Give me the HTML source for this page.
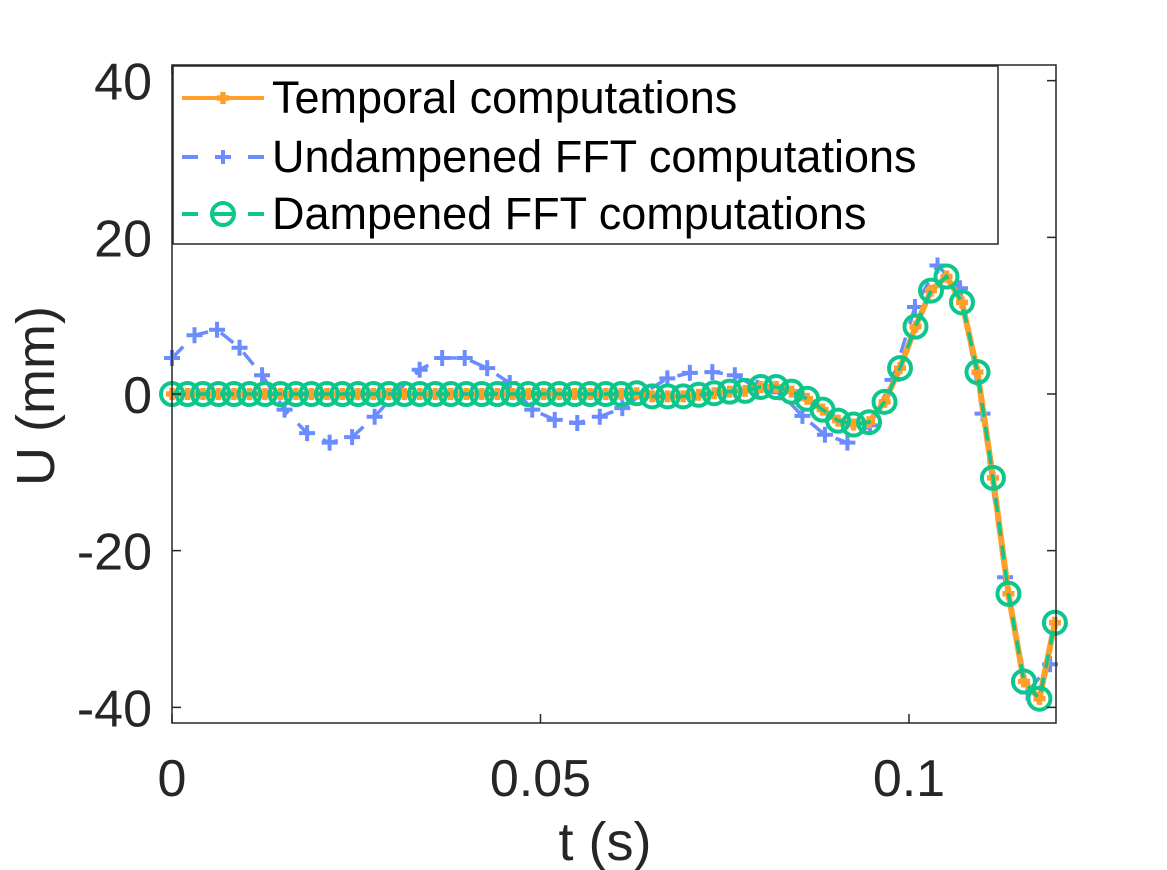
<!DOCTYPE html>
<html><head><meta charset="utf-8"><style>
html,body{margin:0;padding:0;background:#fff;}
svg{display:block;font-family:"Liberation Sans",sans-serif;}
</style></head><body>
<svg id="chart" width="1167" height="870" viewBox="0 0 1167 870" xmlns="http://www.w3.org/2000/svg">
<rect x="0" y="0" width="1167" height="870" fill="#fff"/>
<g id="plot"></g>
<g id="axes"></g>
<g id="legend"></g>
</svg>
<script>
const greenValues=[0,0,0,0,0,0,0,0,0,0,0,0,0,0,0,0,0,0,0,0,0,0,0,0,0,0,0,0,0,0,
0.1,-0.3,-0.3,-0.3,-0.1,0.1,0.3,0.4,0.9,0.9,0.3,-0.6,-2.0,-3.4,-3.9,-3.6,-1.0,3.3,8.6,13.2,15.0,11.7,2.8,-10.7,-25.5,-36.7,-38.9,-29.2];
const orangeValues=[0,0,0,0,0,0,0,0,0,0,0,0,0,0,0,0,0,0,0,0,0,0,0,0,0,0,0,0,0,0,
0.1,-0.3,-0.3,-0.3,-0.1,0.1,0.3,0.4,0.9,0.9,0.3,-0.6,-2.0,-3.4,-3.9,-3.6,-1.0,3.3,8.6,13.2,15.0,11.7,2.8,-10.7,-25.5,-36.7,-38.9,-29.2];
const blueValues=[4.6,7.5,8.2,5.9,2.4,-2.0,-5.0,-6.2,-5.5,-2.9,0.3,3.1,4.6,4.6,3.3,1.4,-2.0,-3.3,-3.7,-2.9,-1.8,0.2,2.0,2.7,2.8,2.4,0.8,0.2,-2.8,-5.2,-6.2,-4.0,1.8,11.1,16.4,13.5,-2.5,-23.4,-38.1,-34.5];
const greenDt=0.0021018;
const blueDt=0.003055;
const xTicks=[0,0.05,0.1];
const xTickLabels=["0","0.05","0.1"];
const yTicks=[-40,-20,0,20,40];
const yTickLabels=["-40","-20","0","20","40"];
const legendLabels=["Temporal computations","Undampened FFT computations","Dampened FFT computations"];

const NS="http://www.w3.org/2000/svg";
const L=172,R=1056,T=65,B=723,XMIN=0,XMAX=0.11995,YMIN=-42,YMAX=42;
const xs=t=>L+(t-XMIN)/(XMAX-XMIN)*(R-L);
const ys=u=>B-(u-YMIN)/(YMAX-YMIN)*(B-T);
const C_OR="#ff9f2a",C_BL="#6b8cff",C_GR="#0cc68c";
function mk(tag,attrs,parent){const e=document.createElementNS(NS,tag);for(const k in attrs)e.setAttribute(k,attrs[k]);parent.appendChild(e);return e;}
const plot=document.getElementById('plot'),axes=document.getElementById('axes'),legend=document.getElementById('legend');

function pts(vals,dt){return vals.map((v,i)=>[xs(i*dt),ys(v)]);}
function plus(g,x,y,s,c,w){mk('path',{d:`M${x-s},${y}H${x+s}M${x},${y-s}V${y+s}`,stroke:c,'stroke-width':w,fill:'none'},g);}

const bg=mk('g',{},plot);
const bp=pts(blueValues,blueDt);
const bline=mk('polyline',{points:bp.map(p=>p.join(',')).join(' '),fill:'none',stroke:C_BL,'stroke-width':3.5,'stroke-dasharray':'16 14'},bg);

bp.forEach(p=>plus(bg,p[0],p[1],8,C_BL,4));
const og=mk('g',{},plot);
const op=pts(orangeValues,greenDt);
const oline=mk('polyline',{points:op.map(p=>p.join(',')).join(' '),fill:'none',stroke:C_OR,'stroke-width':6},og);

op.forEach(p=>plus(og,p[0],p[1],6,C_OR,5.5));
const gg=mk('g',{},plot);
const gp=pts(greenValues,greenDt);
const gline=mk('polyline',{points:gp.map(p=>p.join(',')).join(' '),fill:'none',stroke:C_GR,'stroke-width':3.5,'stroke-dasharray':'14 10'},gg);

gp.forEach(p=>mk('circle',{cx:p[0],cy:p[1],r:11,fill:'none',stroke:C_GR,'stroke-width':4},gg));

const box=mk('rect',{x:L,y:T,width:R-L,height:B-T,fill:'none',stroke:'#262626','stroke-width':1.5},axes);

xTicks.forEach((t,i)=>{const x=xs(t);
 mk('path',{d:`M${x},${B}V${B-9}M${x},${T}V${T+9}`,stroke:'#262626','stroke-width':1.5},axes);
 const tx=mk('text',{x:x,y:796,'font-size':52,fill:'#262626','text-anchor':'middle'},axes);tx.textContent=xTickLabels[i];
 });
yTicks.forEach((u,i)=>{const y=ys(u);
 mk('path',{d:`M${L},${y}H${L+9}M${R},${y}H${R-9}`,stroke:'#262626','stroke-width':1.5},axes);
 const tx=mk('text',{x:152,y:y+19,'font-size':52,fill:'#262626','text-anchor':'end'},axes);tx.textContent=yTickLabels[i];
 });
const xl=mk('text',{x:605,y:860,'font-size':54,fill:'#262626','text-anchor':'middle'},axes);xl.textContent='t (s)';

const yl=mk('text',{x:54,y:396,'font-size':54,fill:'#262626','text-anchor':'middle',transform:'rotate(-90 54 396)'},axes);yl.textContent='U (mm)';


const lb=mk('rect',{x:173,y:66,width:825,height:178,fill:'#fff',stroke:'#262626','stroke-width':1.5},legend);

const rows=[98,157,214];
rows.forEach((y,i)=>{const g=mk('g',{},legend);
 if(i===0){mk('line',{x1:182,y1:y,x2:264,y2:y,stroke:C_OR,'stroke-width':4},g);plus(g,223,y,6,C_OR,5.5);}
 if(i===1){mk('line',{x1:182,y1:y,x2:264,y2:y,stroke:C_BL,'stroke-width':4,'stroke-dasharray':'16 17'},g);plus(g,223,y,7,C_BL,4);}
 if(i===2){mk('line',{x1:182,y1:y,x2:264,y2:y,stroke:C_GR,'stroke-width':4,'stroke-dasharray':'16 17'},g);mk('circle',{cx:223,cy:y,r:11,fill:'#fff',stroke:C_GR,'stroke-width':4},g);mk('line',{x1:213,y1:y,x2:233,y2:y,stroke:C_GR,'stroke-width':4},g);}
 const tx=mk('text',{x:272,y:y+15,'font-size':45,fill:'#000'},g);tx.textContent=legendLabels[i];});
</script>
</body></html>
